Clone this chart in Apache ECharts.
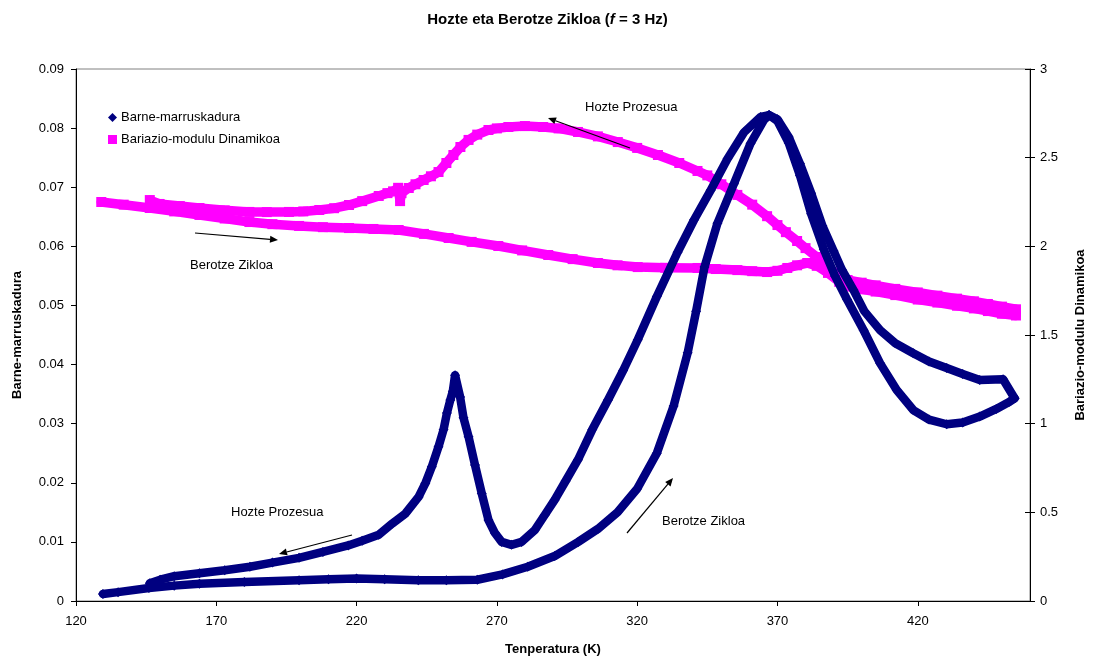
<!DOCTYPE html>
<html>
<head>
<meta charset="utf-8">
<script src="https://cdn.jsdelivr.net/npm/echarts@6/dist/echarts.min.js"></script>
<style>html,body{margin:0;padding:0;background:#fff}#c{width:1095px;height:666px}</style>
</head>
<body>
<div id="c"></div>
<script>
// ---- data (temperature K, value) ----
const xTicks = [120, 170, 220, 270, 320, 370, 420];
const leftTicks = [0, 0.01, 0.02, 0.03, 0.04, 0.05, 0.06, 0.07, 0.08, 0.09];
const rightTicks = [0, 0.5, 1, 1.5, 2, 2.5, 3];
const seriesNames = ['Barne-marruskadura', 'Bariazio-modulu Dinamikoa'];

// Barne-marruskadura — heating (Berotze Zikloa)
const frictionHeating = [
  [129.6,0.0012],[135,0.0015],[146,0.0022],[155,0.0026],[164,0.0029],[180,0.0032],[199.5,0.0035],
  [210,0.0037],[220,0.0038],[230,0.0037],[242,0.0035],[252,0.0035],[263,0.0036],[272,0.0045],
  [281,0.0058],[290.6,0.0076],[299,0.0100],[306,0.0122],[313,0.0150],[320,0.0190],[327,0.0250],
  [333,0.0330],[338,0.0420],[341,0.0490],[344,0.0565],[348.6,0.0639],[354.5,0.0706],[360.4,0.0774],
  [365.2,0.0814],[367,0.0822],[370,0.0812],[374,0.0775],[378,0.0720],[382,0.0655],[386.5,0.0595],
  [390.5,0.0550],[394.8,0.0510],[400.7,0.0458],[406.6,0.0402],[412.5,0.0357],[418.4,0.0323],
  [424,0.0307],[430.3,0.0299],[436,0.0302],[442.1,0.0312],[448,0.0325],[452.7,0.0337],[454.5,0.0343]
];
// Barne-marruskadura — cooling (Hozte Prozesua)
const frictionCooling = [
  [454.5,0.0343],[450.4,0.0375],[442.1,0.0374],[436,0.0384],[430.3,0.0394],[424,0.0405],[418.4,0.0419],
  [412,0.0436],[406.6,0.0458],[401,0.0490],[397.1,0.0526],[393,0.0560],[390,0.0592],[386,0.0635],
  [382,0.0690],[378,0.0740],[374,0.0785],[370,0.0815],[367,0.0822],[364,0.0819],[358.1,0.0793],
  [352.2,0.0748],[346.2,0.0695],[340.3,0.0645],[334.4,0.0590],[327,0.0515],[320.2,0.0442],[315,0.0390],
  [309.6,0.0340],[304,0.0290],[298.9,0.0239],[294.5,0.0203],[290.6,0.0171],[287,0.0145],[283.5,0.0120],
  [278.8,0.0100],[275.2,0.0095],[271.7,0.0100],[269.3,0.0115],[267,0.0137],[264.6,0.0182],[262.2,0.0230],
  [259.9,0.0278],[258.1,0.0310],[256.9,0.0345],[255.1,0.0382],[254.3,0.0355],[253.4,0.0340],[252.2,0.0318],
  [251,0.0290],[249.2,0.0261],[246.8,0.0227],[244.5,0.0199],[242.1,0.0176],[237.4,0.0148],[232.7,0.0131],
  [227.9,0.0112],[222,0.0102],[217,0.0094],[208,0.0083],[199.5,0.0073],[190,0.0065],[182,0.0058],
  [173,0.0052],[164,0.0047],[155,0.0042],[150,0.0036],[146.3,0.0030]
];
// Bariazio-modulu Dinamikoa — heating
const modulusHeating = [
  [129,2.25],[137,2.235],[146.3,2.216],[155,2.197],[164,2.177],[173,2.157],[181.8,2.137],[190,2.125],
  [199.5,2.115],[208,2.108],[217.3,2.103],[226,2.098],[235,2.092],[244,2.07],[252.8,2.047],[261,2.025],
  [270.5,2.002],[279,1.977],[288.3,1.951],[297,1.928],[306,1.906],[313,1.893],[320.2,1.883],[330,1.879],
  [341.5,1.878],[348,1.872],[355.7,1.866],[361,1.86],[366.3,1.855],[370,1.862],[373.5,1.878],[377,1.893],
  [380.6,1.906],[384,1.89],[388,1.85],[392,1.80],[395,1.775],[400,1.758],[405,1.745],[412,1.725],
  [420,1.70],[427,1.683],[434,1.665],[440,1.65],[445,1.635],[450,1.62],[455,1.61]
];
// Bariazio-modulu Dinamikoa — cooling
const modulusCooling = [
  [455,1.645],[450,1.66],[445,1.675],[440,1.69],[434,1.705],[427,1.722],[420,1.74],[412,1.76],[405,1.78],
  [400,1.795],[395,1.81],[391,1.845],[387.7,1.89],[384,1.94],[380,1.99],[377,2.03],[373,2.08],[370,2.12],
  [366.3,2.17],[361,2.235],[355.7,2.29],[350,2.35],[345,2.40],[341.5,2.425],[335,2.47],[327.4,2.515],
  [320,2.555],[313.1,2.588],[306,2.62],[298.9,2.645],[292,2.665],[286.5,2.673],[280,2.678],[274.1,2.673],
  [270,2.665],[267,2.656],[263,2.63],[259.9,2.6],[257,2.56],[254.5,2.515],[252,2.47],[249.2,2.419],
  [246.5,2.395],[243.9,2.374],[241,2.35],[238.6,2.329],[236,2.30],[235.5,2.255],[234.8,2.33],[233,2.31],
  [231,2.30],[227.9,2.284],[222,2.255],[217.3,2.233],[212,2.215],[206.7,2.205],[201,2.197],[195.9,2.194],
  [188,2.193],[181.8,2.194],[173,2.203],[164,2.216],[157,2.227],[149.8,2.239],[146.3,2.261]
];

// ---- chart ----
const NAVY = '#000080', MAGENTA = '#FF00FF';
const FONT = '"Liberation Sans", Arial, sans-serif';
const chart = echarts.init(document.getElementById('c'), null, {renderer: 'canvas'});

function arrow(x1, y1, x2, y2) {
  const ang = Math.atan2(y2 - y1, x2 - x1), L = 8, W = 3.5;
  const bx = x2 - L * Math.cos(ang), by = y2 - L * Math.sin(ang);
  const px = -Math.sin(ang) * W, py = Math.cos(ang) * W;
  return [
    {type: 'line', shape: {x1, y1, x2: bx, y2: by}, style: {stroke: '#000', lineWidth: 1.2}, z: 100},
    {type: 'polygon', shape: {points: [[x2, y2], [bx + px, by + py], [bx - px, by - py]]}, style: {fill: '#000'}, z: 100}
  ];
}
function label(x, y, t) {
  return {type: 'text', x, y, style: {text: t, font: '13px ' + FONT, fill: '#000', textVerticalAlign: 'middle'}, z: 100};
}

const lineSeries = (name, data, color, sym, size, width, yIdx) => ({
  name, type: 'line', data, yAxisIndex: yIdx, color,
  symbol: sym, symbolSize: size, showSymbol: true, showAllSymbol: true,
  lineStyle: {color, width, cap: 'round', join: 'round'},
  itemStyle: {color, borderWidth: 0}, emphasis: {disabled: true}, animation: false, z: yIdx === 0 ? 3 : 2
});

const axisText = {color: '#000', fontSize: 13, fontFamily: FONT};
chart.setOption({
  backgroundColor: '#fff',
  animation: false,
  title: {
    text: '{b|Hozte eta Berotze Zikloa (}{i|f}{b| = 3 Hz)}',
    left: 'center', top: 7,
    textStyle: {rich: {
      b: {fontSize: 15, fontWeight: 'bold', fontFamily: FONT, color: '#000'},
      i: {fontSize: 15, fontWeight: 'bold', fontStyle: 'italic', fontFamily: FONT, color: '#000'}
    }}
  },
  legend: {
    data: [{name: seriesNames[0], icon: 'diamond'}, {name: seriesNames[1], icon: 'rect'}],
    orient: 'vertical', left: 103, top: 106, itemWidth: 9, itemHeight: 9, itemGap: 9,
    textStyle: {color: '#000', fontSize: 13, fontFamily: FONT, padding: [0, 0, 0, -1]}
  },
  grid: {left: 76, right: 61, top: 69, bottom: 65, show: true, borderColor: '#808080', borderWidth: 1},
  xAxis: {
    type: 'value', min: 120, max: 460, interval: 50,
    name: 'Tenperatura (K)', nameLocation: 'middle', nameGap: 42,
    nameTextStyle: {color: '#000', fontSize: 13, fontWeight: 'bold', fontFamily: FONT},
    axisLine: {lineStyle: {color: '#000'}}, axisTick: {length: 5, lineStyle: {color: '#000'}},
    axisLabel: Object.assign({margin: 14, showMaxLabel: false,
      formatter: v => xTicks.indexOf(v) >= 0 ? String(v) : ''}, axisText),
    splitLine: {show: false}
  },
  yAxis: [
    {
      type: 'value', min: 0, max: 0.09, interval: 0.01, position: 'left',
      name: 'Barne-marruskadura', nameLocation: 'middle', nameGap: 52, nameRotate: 90,
      nameTextStyle: {color: '#000', fontSize: 13, fontWeight: 'bold', fontFamily: FONT},
      axisLine: {show: true, lineStyle: {color: '#000'}}, axisTick: {show: true, length: 5, lineStyle: {color: '#000'}},
      axisLabel: Object.assign({margin: 12, formatter: v => {
        const k = leftTicks.find(t => Math.abs(t - v) < 1e-9); return k === undefined ? '' : String(+k.toFixed(2));
      }}, axisText),
      splitLine: {show: false}
    },
    {
      type: 'value', min: 0, max: 3, interval: 0.5, position: 'right',
      name: 'Bariazio-modulu Dinamikoa', nameLocation: 'middle', nameGap: 44, nameRotate: 90,
      nameTextStyle: {color: '#000', fontSize: 13, fontWeight: 'bold', fontFamily: FONT},
      axisLine: {show: true, lineStyle: {color: '#000'}}, axisTick: {show: true, length: 5, lineStyle: {color: '#000'}},
      axisLabel: Object.assign({margin: 10, formatter: v => rightTicks.indexOf(v) >= 0 ? String(v) : ''}, axisText),
      splitLine: {show: false}
    },
    {
      type: 'value', min: 0, max: 3, interval: 0.5, position: 'right',
      axisLine: {show: false}, axisTick: {show: true, inside: true, length: 5, lineStyle: {color: '#000'}},
      axisLabel: {show: false}, splitLine: {show: false}
    }
  ],
  series: [
    lineSeries(seriesNames[0], frictionHeating, NAVY, 'diamond', 10, 8.5, 0),
    lineSeries(seriesNames[0], frictionCooling, NAVY, 'diamond', 10, 8.5, 0),
    lineSeries(seriesNames[1], modulusHeating, MAGENTA, 'rect', 10, 9.5, 1),
    lineSeries(seriesNames[1], modulusCooling, MAGENTA, 'rect', 10, 9.5, 1)
  ],
  graphic: [
    label(585, 107, 'Hozte Prozesua'), ...arrow(630, 148, 548, 118),
    label(190, 265, 'Berotze Zikloa'), ...arrow(195, 233, 278, 240),
    label(231, 512, 'Hozte Prozesua'), ...arrow(352, 535, 279, 554),
    label(662, 521, 'Berotze Zikloa'), ...arrow(627, 533, 673, 478)
  ]
});
</script>
</body>
</html>
